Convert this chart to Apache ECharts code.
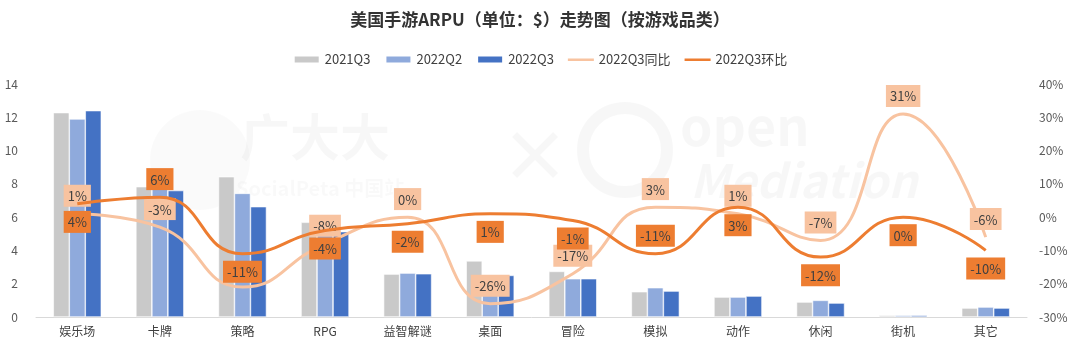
<!DOCTYPE html>
<html>
<head>
<meta charset="utf-8">
<script src="https://cdn.jsdelivr.net/npm/echarts@6/dist/echarts.min.js"></script>
<style>
html,body{margin:0;padding:0;background:#fff;}
#c{width:1080px;height:355px;}
</style>
</head>
<body>
<div id="c"></div>
<script>
const categories = ['娱乐场','卡牌','策略','RPG','益智解谜','桌面','冒险','模拟','动作','休闲','街机','其它'];
const q3_2021 = [12.28, 7.83, 8.43, 5.69, 2.58, 3.37, 2.74, 1.52, 1.20, 0.90, 0.10, 0.54];
const q2_2022 = [11.90, 7.70, 7.43, 5.40, 2.64, 2.50, 2.30, 1.76, 1.20, 1.00, 0.10, 0.60];
const q3_2022 = [12.40, 7.60, 6.63, 5.13, 2.60, 2.50, 2.30, 1.56, 1.26, 0.84, 0.10, 0.54];
const yoy = [1, -3, -21, -8, 0, -26, -17, 3, 1, -7, 31, -6];
const qoq = [4, 6, -11, -4, -2, 1, -1, -11, 3, -12, 0, -10];
const yoyLabelShown = [true, true, false, true, true, true, true, true, true, true, true, true];
const qoqLabelPos = ['bottom','top','bottom','bottom','bottom','bottom','bottom','top','bottom','bottom','bottom','bottom'];
const leftTicks = {min: 0, max: 14, interval: 2};
const rightTicks = {min: -30, max: 40, interval: 10};

const chart = echarts.init(document.getElementById('c'));
const font = "'Noto Sans CJK SC','Noto Sans',sans-serif";
const boxLabel = (bg) => ({
  show: true, formatter: '{c}%', color: '#404040', fontSize: 13, lineHeight: 15, fontFamily: font,
  backgroundColor: bg, padding: [4, 4, 3, 4], distance: 7
});
const barStyle = (c) => ({color: c, borderColor: '#fff', borderWidth: 0.6});
const lineIcon = 'path://M0,0h0.01v0.01h-0.01z M0,3h26v2.6h-26z M25.99,8h0.01v-0.01h-0.01z';

chart.setOption({
  animation: false,
  textStyle: {fontFamily: font},
  title: {
    text: '美国手游ARPU（单位：$）走势图（按游戏品类）',
    left: 'center', top: 6,
    textStyle: {fontSize: 17, fontWeight: 'bold', color: '#333', fontFamily: font}
  },
  legend: {
    top: 48, left: 'center', itemGap: 14, itemWidth: 26, itemHeight: 8,
    textStyle: {fontSize: 13, color: '#404040', fontFamily: font},
    data: [
      {name: '2021Q3', icon: 'rect'},
      {name: '2022Q2', icon: 'rect'},
      {name: '2022Q3', icon: 'rect'},
      {name: '2022Q3同比', icon: lineIcon, itemStyle: {color: '#F8C3A0'}},
      {name: '2022Q3环比', icon: lineIcon, itemStyle: {color: '#ED7D31'}}
    ]
  },
  graphic: [
    {type: 'text', left: 240, top: 112, z: -10, style: {text: '广大大', fontSize: 50, fontWeight: 'bold', fill: 'rgba(0,0,0,0.03)', fontFamily: font}},
    {type: 'text', left: 236, top: 178, z: -10, style: {text: 'SocialPeta 中国站', fontSize: 20, fontWeight: 'bold', fill: 'rgba(0,0,0,0.025)', fontFamily: font}},
    {type: 'circle', shape: {cx: 200, cy: 160, r: 50}, z: -10, style: {fill: 'rgba(0,0,0,0.018)'}},
    {type: 'text', left: 500, top: 120, z: -10, style: {text: '×', fontSize: 70, fontWeight: 'bold', fill: 'rgba(0,0,0,0.03)', fontFamily: font}},
    {type: 'circle', shape: {cx: 625, cy: 150, r: 42}, z: -10, style: {fill: 'none', stroke: 'rgba(0,0,0,0.03)', lineWidth: 12}},
    {type: 'text', left: 680, top: 100, z: -10, style: {text: 'open', fontSize: 52, fontWeight: 'bold', fill: 'rgba(0,0,0,0.03)', fontFamily: font}},
    {type: 'text', left: 690, top: 158, z: -10, style: {text: 'Mediation', fontSize: 46, fontWeight: 'bold', fontStyle: 'italic', fill: 'rgba(0,0,0,0.03)', fontFamily: font}}
  ],
  grid: {left: 36, right: 53, top: 84, bottom: 38},
  xAxis: {
    type: 'category', data: categories,
    axisLine: {lineStyle: {color: '#D9D9D9', width: 1}},
    axisTick: {show: false},
    axisLabel: {color: '#404040', fontSize: 12, margin: 8, fontFamily: font}
  },
  yAxis: [
    {type: 'value', min: leftTicks.min, max: leftTicks.max, interval: leftTicks.interval,
     splitLine: {show: false}, axisLine: {show: false}, axisTick: {show: false},
     axisLabel: {color: '#595959', fontSize: 12, margin: 18, fontFamily: font}},
    {type: 'value', min: rightTicks.min, max: rightTicks.max, interval: rightTicks.interval,
     splitLine: {show: false}, axisLine: {show: false}, axisTick: {show: false},
     axisLabel: {color: '#595959', fontSize: 12, margin: 12, formatter: '{value}%', fontFamily: font}}
  ],
  series: [
    {name: '2021Q3', type: 'bar', data: q3_2021, barWidth: 16, barGap: '0%', barCategoryGap: '42%', itemStyle: barStyle('#C9C9C9')},
    {name: '2022Q2', type: 'bar', data: q2_2022, barWidth: 16, barGap: '0%', itemStyle: barStyle('#8FAADC')},
    {name: '2022Q3', type: 'bar', data: q3_2022, barWidth: 16, barGap: '0%', itemStyle: barStyle('#4472C4')},
    {name: '2022Q3同比', type: 'line', yAxisIndex: 1, smooth: 0.5, symbol: 'circle', symbolSize: 0.1, showSymbol: true,
     lineStyle: {color: '#F8C3A0', width: 3}, itemStyle: {color: '#F8C3A0'}, z: 3,
     data: yoy.map((v, i) => ({value: v, label: Object.assign(boxLabel('#F8C3A0'), {show: yoyLabelShown[i], position: 'top'})}))},
    {name: '2022Q3环比', type: 'line', yAxisIndex: 1, smooth: 0.5, symbol: 'circle', symbolSize: 0.1, showSymbol: true,
     lineStyle: {color: '#ED7D31', width: 3}, itemStyle: {color: '#ED7D31'}, z: 4,
     data: qoq.map((v, i) => ({value: v, label: Object.assign(boxLabel('#ED7D31'), {position: qoqLabelPos[i]})}))}
  ]
});
</script>
</body>
</html>
